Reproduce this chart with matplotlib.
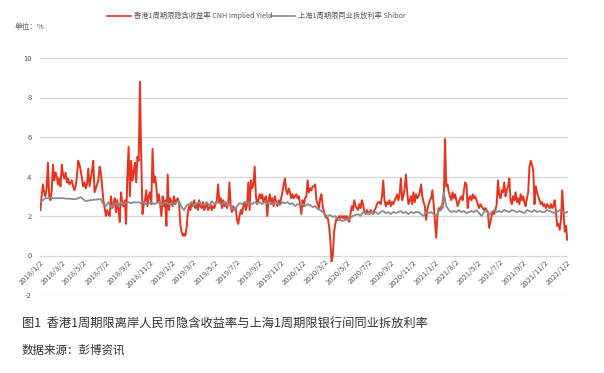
import matplotlib
matplotlib.use("Agg")
import matplotlib.pyplot as plt
import numpy as np
import pandas as pd

plt.rcParams['font.family'] = ['Noto Sans CJK SC', 'DejaVu Sans']
plt.rcParams['axes.unicode_minus'] = False

# ---------------- data ----------------
start_date = "2018-01-02"
red_step_days = 3.5
gray_step_days = 7.0

cnh_implied_yield = [
    2.3, 3.0, 3.6, 3.2, 3.0, 3.4, 4.7, 3.0, 2.8, 3.3,
    4.6, 3.8, 4.2, 4.0, 3.6, 3.9, 3.5, 4.6, 4.1, 3.9,
    4.2, 3.7, 3.9, 3.6, 3.7, 3.8, 3.5, 3.3, 3.5, 4.0,
    4.8, 4.6, 4.3, 3.9, 3.5, 3.7, 3.4, 3.6, 4.4, 3.5,
    3.9, 4.3, 4.8, 3.2, 3.4, 3.6, 3.8, 4.5, 4.2, 3.5,
    2.8, 2.4, 2.0, 2.3, 2.1, 2.0, 3.0, 2.4, 2.6, 2.9,
    2.2, 2.8, 2.3, 1.7, 3.2, 2.6, 2.5, 2.8, 1.6, 4.0,
    5.5, 3.0, 4.8, 3.8, 4.2, 4.7, 3.7, 5.0, 4.8, 8.8,
    5.0, 2.1, 2.6, 2.8, 3.3, 2.5, 3.0, 3.2, 2.6, 5.4,
    3.7, 4.0, 3.5, 2.7, 3.1, 2.6, 2.0, 3.0, 2.5, 2.8,
    1.5, 4.1, 2.3, 2.9, 2.7, 2.5, 3.0, 2.6, 2.8, 2.9,
    2.7, 1.6, 1.2, 1.0, 1.1, 1.0, 1.4, 2.2, 2.5, 2.3,
    2.7, 2.5, 2.8, 2.4, 2.6, 2.3, 2.8, 2.5, 2.4, 2.7,
    2.3, 2.5, 2.6, 2.3, 2.4, 2.6, 2.3, 2.5, 2.4, 2.6,
    2.8, 3.6, 2.7, 2.9, 2.4, 2.8, 2.5, 2.7, 2.4, 2.6,
    3.7, 2.5, 2.2, 2.5, 2.3, 2.4, 1.8, 1.6, 2.0, 2.3,
    2.1, 2.5, 2.7, 2.3, 2.6, 3.7, 2.3, 3.8, 3.4, 3.6,
    4.5, 3.0, 2.6, 2.8, 3.1, 2.9, 3.1, 2.7, 2.9, 3.0,
    2.0, 2.8, 3.1, 2.6, 2.9, 2.5, 3.0, 2.7, 2.5, 2.8,
    2.6, 2.9, 3.2, 3.6, 3.9, 3.3, 3.1, 3.4, 3.2, 2.9,
    3.1, 2.9, 3.0, 3.1, 2.9, 3.0, 2.6, 2.1, 2.8, 2.5,
    2.9, 3.0, 3.8, 3.2, 3.4, 3.3, 3.5, 3.5, 3.6, 2.8,
    2.6, 2.4, 2.9, 3.1, 2.5, 2.2, 2.0, 1.9, 1.9, 1.5,
    0.8, -0.3, 0.0, 1.2, 1.6, 1.9, 1.8, 2.0, 1.9, 2.0,
    1.9, 2.0, 1.8, 2.0, 1.9, 1.7, 2.1, 2.5, 2.3, 2.8,
    2.5, 2.4, 2.3, 2.6, 2.4, 2.8, 2.6, 2.2, 2.1, 2.3,
    2.2, 2.1, 2.3, 2.2, 2.1, 2.3, 2.4, 2.6, 2.7, 2.7,
    2.6, 3.0, 3.8, 2.8, 2.5, 2.7, 2.6, 2.8, 2.5, 2.7,
    2.6, 2.8, 2.9, 3.1, 2.8, 3.1, 3.9, 2.8, 3.0, 3.4,
    4.1, 3.2, 2.6, 2.8, 3.0, 2.6, 3.2, 2.7, 3.1, 2.9,
    3.0, 3.2, 3.6, 3.0, 2.7, 2.5, 1.8, 2.3, 2.6, 2.8,
    2.9, 3.3, 2.6, 1.8, 0.9, 2.0, 2.4, 2.3, 2.5, 2.4,
    2.8, 5.9, 3.5, 3.6, 3.2, 3.0, 2.8, 3.2, 2.9, 3.1,
    2.8, 2.5, 2.7, 2.9, 3.0, 2.8, 3.3, 3.7, 3.6, 2.4,
    2.9, 3.0, 2.8, 3.1, 2.9, 3.0, 2.8, 2.6, 2.4, 2.6,
    2.5, 2.4, 2.3, 2.4, 2.3, 2.2, 1.4, 1.7, 2.0, 2.2,
    2.1, 2.3, 2.6, 3.8, 3.1, 2.9, 3.3, 3.2, 3.7, 3.0,
    3.3, 3.5, 3.9, 2.8, 2.6, 3.0, 2.8, 3.2, 2.7, 2.9,
    2.6, 3.1, 2.8, 3.0, 2.7, 2.5, 2.9, 3.2, 4.5, 4.8,
    4.6, 4.3, 2.6, 3.5, 3.2, 3.0, 2.8, 2.6, 2.7, 2.5,
    2.6, 2.4, 2.6, 2.5, 2.4, 2.6, 2.4, 2.5, 2.8, 2.2,
    1.5, 1.6, 1.3, 1.8, 3.3, 2.2, 1.2, 1.5, 0.8,
]

shibor_1w = [
    2.7, 2.8, 2.9, 2.9, 2.95, 2.9, 2.9, 2.9, 2.9, 2.9,
    2.88, 2.88, 2.87, 2.86, 2.85, 2.9, 2.95, 2.85, 2.75, 2.78,
    2.8, 2.82, 2.83, 2.85, 2.85, 2.6, 2.5, 2.7, 2.45, 2.6,
    2.65, 2.5, 2.7, 2.6, 2.65, 2.7, 2.65, 2.7, 2.68, 2.7,
    2.65, 2.7, 2.6, 2.65, 2.7, 2.6, 2.65, 2.7, 2.55, 2.65,
    2.7, 2.6, 2.65, 2.6, 2.7, 2.75, 2.45, 2.3, 2.55, 2.6,
    2.7, 2.5, 2.65, 2.7, 2.55, 2.6, 2.7, 2.5, 2.75, 2.6,
    2.7, 2.65, 2.6, 2.7, 2.55, 2.6, 2.4, 2.3, 2.5, 2.65,
    2.6, 2.7, 2.65, 2.7, 2.6, 2.7, 2.65, 2.7, 2.6, 2.7,
    2.65, 2.7, 2.6, 2.7, 2.65, 2.55, 2.7, 2.65, 2.7, 2.6,
    2.65, 2.5, 2.6, 2.55, 2.6, 2.5, 2.6, 2.55, 2.45, 2.5,
    2.35, 2.3, 2.2, 2.05, 2.0, 2.05, 1.95, 2.0, 1.85, 1.8,
    1.75, 1.85, 1.8, 1.9, 2.0, 2.05, 2.1, 2.0, 2.2, 2.15,
    2.1, 2.2, 2.15, 2.2, 2.1, 2.2, 2.25, 2.15, 2.2, 2.1,
    2.2, 2.15, 2.2, 2.25, 2.15, 2.2, 2.1, 2.2, 2.15, 2.2,
    2.2, 2.1, 2.0, 2.2, 2.15, 2.2, 2.1, 2.0, 2.25, 2.3,
    3.2, 2.5, 2.3, 2.2, 2.25, 2.2, 2.3, 2.2, 2.25, 2.15,
    2.2, 2.25, 2.2, 2.3, 2.15, 2.0, 2.2, 2.25, 2.05, 2.2,
    2.3, 2.2, 2.25, 2.2, 2.3, 2.25, 2.2, 2.3, 2.25, 2.2,
    2.25, 2.2, 2.15, 2.3, 2.25, 2.2, 2.3, 2.2, 2.25, 2.2,
    2.2, 2.3, 2.25, 2.2, 2.15, 2.2, 2.3, 2.2, 2.15, 2.2,
]

tick_labels = [
    "2018/1/2", "2018/3/2", "2018/5/2", "2018/7/2", "2018/9/2", "2018/11/2",
    "2019/1/2", "2019/3/2", "2019/5/2", "2019/7/2", "2019/9/2", "2019/11/2",
    "2020/1/2", "2020/3/2", "2020/5/2", "2020/7/2", "2020/9/2", "2020/11/2",
    "2021/1/2", "2021/3/2", "2021/5/2", "2021/7/2", "2021/9/2", "2021/11/2",
    "2022/1/2",
]
y_ticks = [-2, 0, 2, 4, 6, 8, 10]

series_red_name = "香港1周期限隐含收益率 CNH Implied Yield"
series_gray_name = "上海1周期限同业拆放利率 Shibor"
unit_text = "单位：%"
caption_title = "图1  香港1周期限离岸人民币隐含收益率与上海1周期限银行间同业拆放利率"
caption_source = "数据来源：彭博资讯"

# ---------------- build ----------------
t0 = pd.Timestamp(start_date)
red_dates = t0 + pd.to_timedelta(np.arange(len(cnh_implied_yield)) * red_step_days, unit="D")
gray_dates = t0 + pd.to_timedelta(np.arange(len(shibor_1w)) * gray_step_days, unit="D")
tick_dates = pd.to_datetime(tick_labels, format="%Y/%m/%d")

W, H = 604, 373
fig = plt.figure(figsize=(W / 100, H / 100), dpi=100)
ax_left, ax_right = 40 / W, 568 / W
ax_top, ax_bot = 1 - 58 / H, 1 - 295 / H
ax = fig.add_axes([ax_left, ax_bot, ax_right - ax_left, ax_top - ax_bot])

red_c = "#E8341E"
gray_c = "#8C8C8C"
txt_c = "#595959"

ax.plot(red_dates, cnh_implied_yield, color=red_c, lw=1.4, zorder=3,
        solid_joinstyle="round")
ax.plot(gray_dates, shibor_1w, color=gray_c, lw=1.3, zorder=4,
        solid_joinstyle="round")

ax.set_xlim(pd.Timestamp("2018-01-01"), pd.Timestamp("2022-01-06"))
ax.set_ylim(-2, 10)
ax.set_yticks(y_ticks)
ax.set_yticklabels([str(v) for v in y_ticks], fontsize=5.5, color=txt_c)
ax.yaxis.grid(True, color="#D9D9D9", lw=1.0, zorder=0)
ax.set_axisbelow(True)
for s in ax.spines.values():
    s.set_visible(False)
ax.spines["bottom"].set_position(("data", 0))
ax.tick_params(axis="y", length=0, pad=6)
ax.tick_params(axis="x", length=0, pad=2)
ax.set_xticks(tick_dates)
ax.set_xticklabels(tick_labels, rotation=45, ha="right", va="top",
                   rotation_mode="anchor", fontsize=5.5, color=txt_c)
ax.margins(x=0)

# legend (top, centered row)
fy = 1 - 16 / H
fig.add_artist(plt.Line2D([107 / W, 131 / W], [fy, fy], color=red_c, lw=1.2))
fig.text(134 / W, fy, series_red_name, fontsize=5.2, color=txt_c, va="center", ha="left")
fig.add_artist(plt.Line2D([271 / W, 295 / W], [fy, fy], color=gray_c, lw=1.2))
fig.text(298 / W, fy, series_gray_name, fontsize=5.2, color=txt_c, va="center", ha="left")

fig.text(15 / W, 1 - 27 / H, unit_text, fontsize=5.5, color=txt_c, va="center", ha="left")

fig.text(22 / W, 1 - 323 / H, caption_title, fontsize=8.8, color="#333333", va="center", ha="left")
fig.text(22 / W, 1 - 350 / H, caption_source, fontsize=8.3, color="#333333", va="center", ha="left")

fig.savefig("out.png", dpi=100, facecolor="white")
